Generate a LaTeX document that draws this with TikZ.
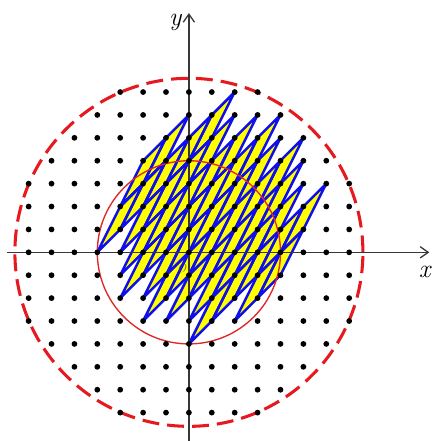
\documentclass[tikz,border=0pt]{standalone}
\usepackage{fontspec}
\setmainfont{Latin Modern Roman}
\usetikzlibrary{arrows.meta}
\begin{document}
\begin{tikzpicture}[
  cellfill/.style={fill={rgb,255:red,255;green,255;blue,0}},
  celledge/.style={draw={rgb,255:red,15;green,15;blue,235},line width=3.1pt,line join=round},
  axisline/.style={draw={rgb,255:red,55;green,55;blue,55},line width=1.9pt,-{Straight Barb[length=10pt,width=14pt,line width=1.6pt]}},
  latdot/.style={fill=black,circle,inner sep=0pt,minimum size=7.2pt},
  bigcircle/.style={draw={rgb,255:red,230;green,25;blue,30},line width=3.8pt,dash pattern=on 21pt off 10pt},
  smallcircle/.style={draw={rgb,255:red,225;green,40;blue,40},line width=1.7pt},
  axlabel/.style={font=\fontsize{32}{36}\selectfont\itshape}
]
\useasboundingbox (-8.25,-8.24) rectangle (10.61,11.02);
% parallelogram cells p + [0,1](1,1) + [0,1](1,2), p in disk of radius 4
\foreach \x in {-4,...,4}{
  \foreach \y in {-4,...,4}{
    \pgfmathtruncatemacro\rr{\x*\x+\y*\y}
    \ifnum\rr<17
      \path[cellfill] (\x,\y) -- ++(1,1) -- ++(1,2) -- ++(-1,-1) -- cycle;
    \fi
  }
}
\foreach \x in {-4,...,4}{
  \foreach \y in {-4,...,4}{
    \pgfmathtruncatemacro\rr{\x*\x+\y*\y}
    \ifnum\rr<17
      \path[celledge] (\x,\y) -- ++(1,1) -- ++(1,2) -- ++(-1,-1) -- cycle;
    \fi
  }
}
\node[text={rgb,255:red,70;green,70;blue,40},opacity=0.75,font=\fontsize{15}{17}\selectfont\itshape] (olabel) at (-0.32,-0.7) {O};
\path[smallcircle] (0,0) circle[radius=4];
\path[bigcircle] (0,0) circle[radius=7.6];
% axes
\coordinate (xs) at (-7.95,0);
\coordinate (xe) at (10.5,0);
\coordinate (ys) at (0,-8.3);
\coordinate (ye) at (0,10.45);
\path[axisline] (xs) -- (xe);
\path[axisline] (ys) -- (ye);
\node[axlabel] (xlabel) at (10.3,-0.85) {x};
\node[axlabel] (ylabel) at (-0.6,10.05) {y};
% lattice points
\foreach \x in {-7,...,7}{
  \foreach \y in {-7,...,7}{
    \pgfmathtruncatemacro\rr{\x*\x+\y*\y}
    \ifnum\rr<59
      \node[latdot] (d\x\y) at (\x,\y) {};
    \fi
  }
}
\end{tikzpicture}
\end{document}
